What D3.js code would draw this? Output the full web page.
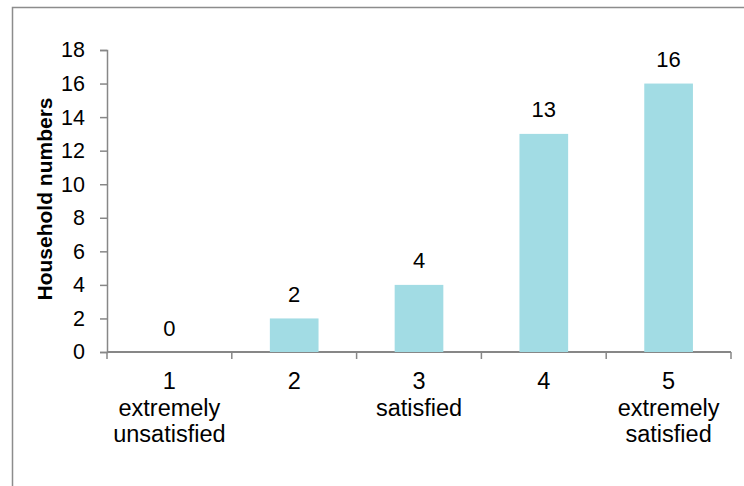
<!DOCTYPE html>
<html>
<head>
<meta charset="utf-8">
<script src="https://cdn.jsdelivr.net/npm/d3@7"></script>
<style>
  body { margin: 0; background: #fff; }
  svg { display: block; font-family: "Liberation Sans", Arial, sans-serif; }
</style>
</head>
<body>
<div class="container"></div>
<script>
// satisfaction score categories and household counts
const categories = ["1", "2", "3", "4", "5"];
const subLabels = [["extremely", "unsatisfied"], [], ["satisfied"], [], ["extremely", "satisfied"]];
const households = [0, 2, 4, 13, 16];
const yTicks = [0, 2, 4, 6, 8, 10, 12, 14, 16, 18];

const W = 744, H = 486;
const margin = { top: 50, right: 13, bottom: 134, left: 107 };
const width = W - margin.left - margin.right,
      height = H - margin.top - margin.bottom;

const svg = d3.select(".container")
    .append("svg")
    .attr("width", W)
    .attr("height", H);

// outer chart frame (only left and top edges are visible in the picture)
svg.append("rect")
    .attr("x", 12.5)
    .attr("y", 7.5)
    .attr("width", W + 20)
    .attr("height", H + 20)
    .attr("fill", "none")
    .attr("stroke", "#8c8c8c")
    .attr("stroke-width", 1.5);

const g = svg.append("g")
    .attr("transform", `translate(${margin.left}, ${margin.top})`);

const x = d3.scaleBand()
    .domain(categories)
    .range([0, width])
    .paddingInner(0.61)
    .paddingOuter(0.305);

const y = d3.scaleLinear()
    .domain([0, 18])
    .range([height, 0]);

const axisColor = "#878787";

// y axis
const yAxis = g.append("g")
    .call(d3.axisLeft(y).tickValues(yTicks).tickSize(7).tickPadding(15));
yAxis.select(".domain").attr("stroke", axisColor).attr("stroke-width", 1.5);
yAxis.selectAll(".tick line").attr("stroke", axisColor).attr("stroke-width", 1.5);
yAxis.selectAll(".tick text")
    .attr("font-size", 21.5)
    .attr("font-family", "Liberation Sans, Arial, sans-serif")
    .attr("fill", "#000");

// x axis: ticks sit between categories
const step = width / categories.length;
g.append("line")
    .attr("x1", 0).attr("x2", width)
    .attr("y1", height).attr("y2", height)
    .attr("stroke", axisColor).attr("stroke-width", 2);

g.selectAll(".xtick")
    .data(d3.range(categories.length + 1))
    .enter()
    .append("line")
    .attr("x1", i => i * step).attr("x2", i => i * step)
    .attr("y1", height).attr("y2", height + 7)
    .attr("stroke", axisColor).attr("stroke-width", 1.5);

// bars
g.selectAll(".bar")
    .data(households)
    .enter()
    .append("rect")
    .attr("x", (d, i) => x(categories[i]))
    .attr("y", d => y(d))
    .attr("width", x.bandwidth())
    .attr("height", d => height - y(d))
    .attr("fill", "#a2dce4");

// value labels
g.selectAll(".val")
    .data(households)
    .enter()
    .append("text")
    .attr("x", (d, i) => x(categories[i]) + x.bandwidth() / 2)
    .attr("y", d => y(d) - 16.5)
    .attr("text-anchor", "middle")
    .attr("font-size", 22)
    .attr("fill", "#000")
    .text(d => d);

// category labels
const labels = g.selectAll(".cat")
    .data(categories)
    .enter()
    .append("text")
    .attr("text-anchor", "middle")
    .attr("font-size", 23.5)
    .attr("fill", "#000")
    .attr("transform", d => `translate(${x(d) + x.bandwidth() / 2}, ${height + 37})`);

labels.append("tspan")
    .attr("x", 0).attr("dy", 0)
    .text(d => d);

labels.each(function(d, i) {
    const t = d3.select(this);
    subLabels[i].forEach(line => {
        t.append("tspan").attr("x", 0).attr("dy", 26.5).text(line);
    });
});

// y axis title
svg.append("text")
    .attr("transform", `translate(52, 199) rotate(-90)`)
    .attr("text-anchor", "middle")
    .attr("font-size", 21)
    .attr("font-weight", "bold")
    .attr("fill", "#000")
    .text("Household numbers");
</script>
</body>
</html>
